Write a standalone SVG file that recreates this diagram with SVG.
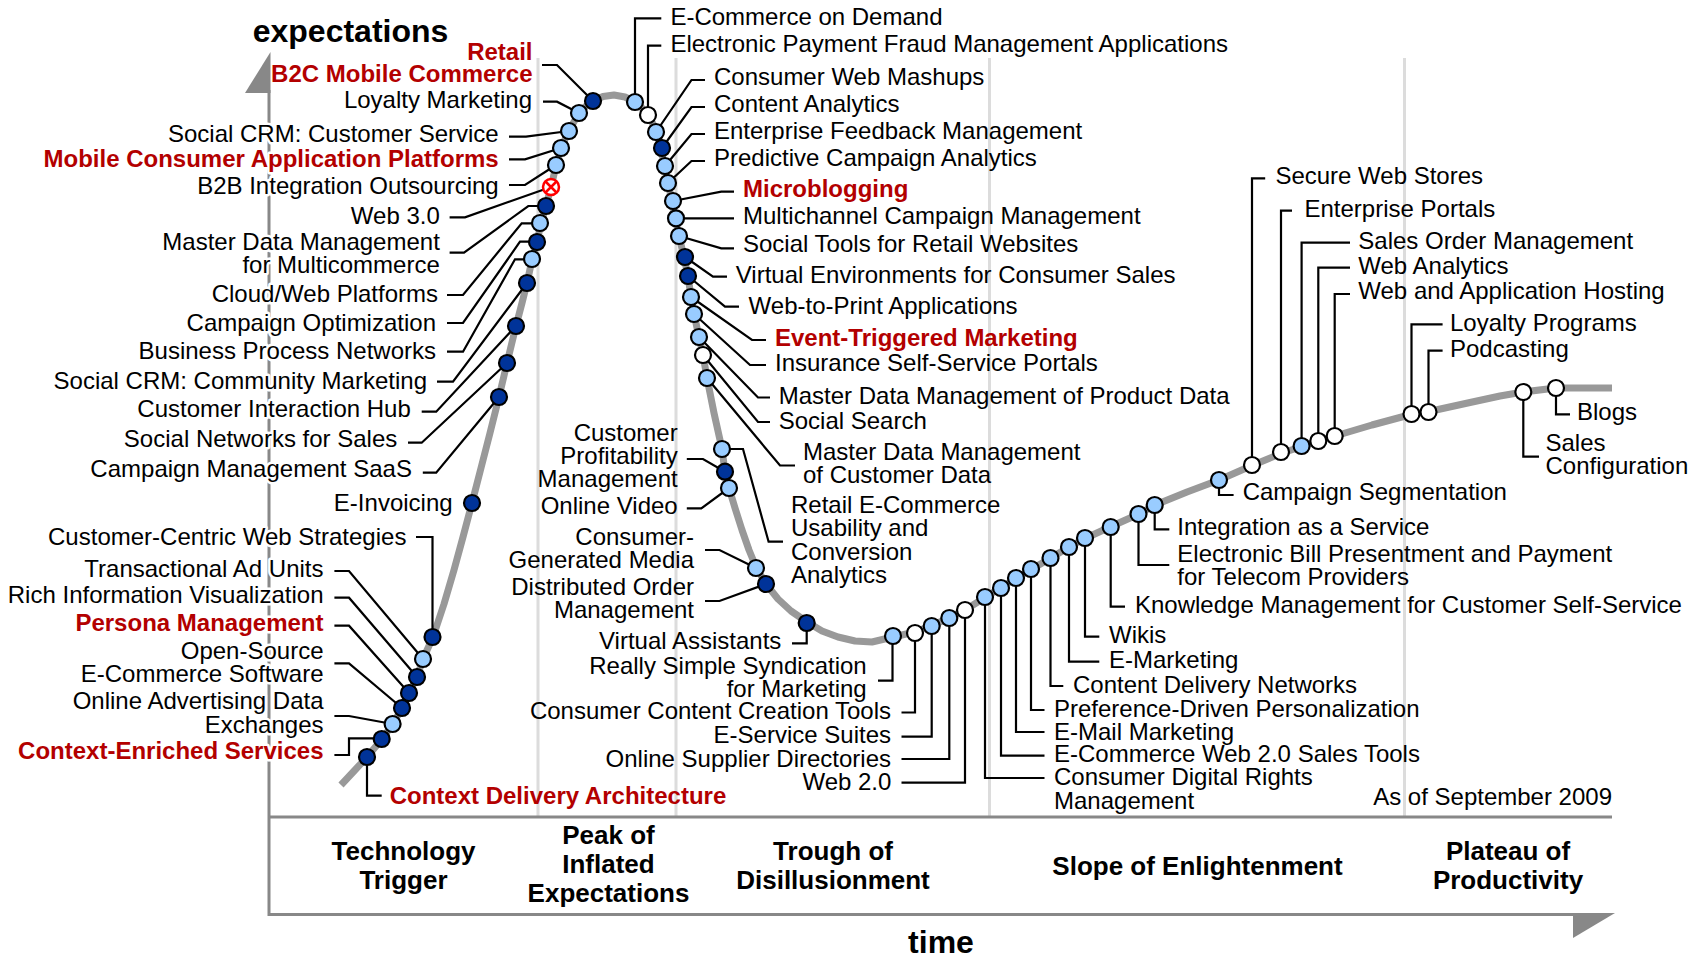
<svg xmlns="http://www.w3.org/2000/svg" width="1701" height="955" viewBox="0 0 1701 955">
<style>
text{font-family:"Liberation Sans",Arial,Helvetica,sans-serif;font-size:24px;fill:#000}
.e{text-anchor:end}
.r{font-weight:bold;fill:#b30000}
.h{stroke:#fff;stroke-width:5;stroke-linejoin:round;paint-order:stroke}
.ph{font-size:26px;font-weight:bold;text-anchor:middle}
.ax{font-size:32px;font-weight:bold}
.sep{stroke:#dcdcdc;stroke-width:3;fill:none}
.axl{stroke:#888;stroke-width:3;fill:none}
.ld{fill:none;stroke:#000;stroke-width:2.2;stroke-linejoin:miter}
.dk{fill:#003399;stroke:#000;stroke-width:2.2}
.lt{fill:#99ccff;stroke:#000;stroke-width:2.2}
.wt{fill:#fff;stroke:#000;stroke-width:2.2}
</style>
<rect width="1701" height="955" fill="#fff"/>
<g id="frame">
<line class="sep" x1="538" y1="58" x2="538" y2="817"/>
<line class="sep" x1="676" y1="58" x2="676" y2="817"/>
<line class="sep" x1="989.5" y1="58" x2="989.5" y2="817"/>
<line class="sep" x1="1404.5" y1="58" x2="1404.5" y2="817"/>
<line class="axl" x1="269" y1="90" x2="269" y2="916"/>
<polygon points="270.5,52 245,93 270.5,93" fill="#888"/>
<line class="axl" x1="269" y1="817" x2="1612" y2="817"/>
<line class="axl" x1="269" y1="914.5" x2="1576" y2="914.5"/>
<polygon points="1573,913 1615,913 1573,938" fill="#888"/>
<text class="ax" x="252.7" y="41.5">expectations</text>
<text class="ax" x="941" y="953" text-anchor="middle">time</text>
<text class="ph" x="403.5" y="860"><tspan x="403.5" y="860">Technology</tspan><tspan x="403.5" y="889">Trigger</tspan></text>
<text class="ph" x="608.5" y="844"><tspan x="608.5" y="844">Peak of</tspan><tspan x="608.5" y="873">Inflated</tspan><tspan x="608.5" y="902">Expectations</tspan></text>
<text class="ph" x="833" y="859.5"><tspan x="833" y="859.5">Trough of</tspan><tspan x="833" y="888.5">Disillusionment</tspan></text>
<text class="ph" x="1197.5" y="875">Slope of Enlightenment</text>
<text class="ph" x="1508" y="859.5"><tspan x="1508" y="859.5">Plateau of</tspan><tspan x="1508" y="888.5">Productivity</tspan></text>
<text class="e" x="1612" y="805">As of September 2009</text>
</g>
<path id="curve" fill="none" stroke="#999" stroke-width="7" stroke-linejoin="round" d="M341,785 L355,770 L367,757 L382,739 L393,724 L402,708 L409,693 L417,677 L423,659 L433,637 L444,604 L454,570 L463,537 L472,503 L481,468 L490,433 L499,397 L507,363 L516,326 L522,303 L527,283 L532,260 L537,242 L541,223 L546,206 L551,187 L556,166 L561,149 L568,132 L578,115 L586,106 L593,101 L603,96.5 L614,95 L625,97 L635,102 L642,108 L648,115 L653,124 L657,133 L661,148 L664,165 L668,183 L672,201 L675,218 L679,236 L684,257 L688,276 L691,297 L694,314 L699,337 L703,355 L707,378 L714,413 L722,449 L725,472 L729,488 L735,508 L742,530 L749,550 L756,567 L766,584 L778,599 L791,611 L807,622 L822,631 L838,637 L855,641 L872,642 L893,637 L915,632 L932,625.5 L949,618 L965,610 L985,597.5 L1000,588 L1016,578.5 L1031,569.5 L1050,558.5 L1069,547 L1085,538.5 L1111,526.5 L1139,514 L1155,505 L1187,492 L1219,480 L1252,465.5 L1282,453 L1302,446.5 L1318,441 L1335,436 L1372,425 L1411,414.5 L1429,411.5 L1470,402.5 L1500,396 L1523,392 L1556,388 L1612,388"/>
<g id="connectors">
<path class="ld" d="M542,65 H557 L593,101"/>
<path class="ld" d="M543,101.7 H557 L579,113"/>
<path class="ld" d="M509,136.7 H526 L569,131"/>
<path class="ld" d="M509,159.3 H525 L561,148"/>
<path class="ld" d="M509,185 H525 L556,165"/>
<path class="ld" d="M449.6,217.3 H465 L551,187"/>
<path class="ld" d="M449.6,252.7 H464 L528.3,206 H546"/>
<path class="ld" d="M447,295 H463 L521.7,223.3 H540"/>
<path class="ld" d="M447,323 H463 L520,241.7 H537"/>
<path class="ld" d="M447,351.7 H463 L515,259.3 H532"/>
<path class="ld" d="M437,381.7 H453 L527,283"/>
<path class="ld" d="M421.7,411.7 H436.2 L516,326"/>
<path class="ld" d="M408,442.7 H421.7 L507,363"/>
<path class="ld" d="M422.8,472.7 H436.2 L499,397"/>
<path class="ld" d="M416,537 H432.5 V637"/>
<path class="ld" d="M334.4,571 H349 L423,659"/>
<path class="ld" d="M334.4,597.7 H349 L417,677"/>
<path class="ld" d="M334.4,625.7 H349 L409,693"/>
<path class="ld" d="M334.4,663.3 H349 L402,708"/>
<path class="ld" d="M334.4,716 H349 L392.6,724"/>
<path class="ld" d="M334.4,755 H349 V738.3 H381.7"/>
<path class="ld" d="M367,757 V795.7 H381.7"/>
<path class="ld" d="M635,102 V18.3 H661.3"/>
<path class="ld" d="M648,115 V45.7 H661.3"/>
<path class="ld" d="M656,132 L691.5,80 H705"/>
<path class="ld" d="M662,148 L691.5,107 H705"/>
<path class="ld" d="M665,166 L691.5,134 H705"/>
<path class="ld" d="M668,183 L691.5,161 H705"/>
<path class="ld" d="M673,201 L721.3,191.7 H734"/>
<path class="ld" d="M676,218.3 H734"/>
<path class="ld" d="M679,236 L721.3,248.3 H734"/>
<path class="ld" d="M685,257 L713,276.7 H727"/>
<path class="ld" d="M688,276 L725,306.7 H739"/>
<path class="ld" d="M691,297 L752,340 H766"/>
<path class="ld" d="M694,314 L750,365 H766"/>
<path class="ld" d="M699,337 L758,397.5 H770"/>
<path class="ld" d="M703,355 L758,422 H770"/>
<path class="ld" d="M707,378 L780,465.5 H795"/>
<path class="ld" d="M722,449 H743 L768.6,541.7 H783"/>
<path class="ld" d="M686.8,459 H703 L725,471.7"/>
<path class="ld" d="M686.8,508.3 H701.3 L729,488"/>
<path class="ld" d="M705,550 H719.5 L756,568"/>
<path class="ld" d="M705,601 H719.5 L766,584"/>
<path class="ld" d="M792,643.3 H806.7 V623"/>
<path class="ld" d="M878,680.7 H892.5 V636"/>
<path class="ld" d="M901.5,712.5 H915 V633"/>
<path class="ld" d="M901.5,736.7 H931.7 V626"/>
<path class="ld" d="M901.5,759 H949.3 V618"/>
<path class="ld" d="M901.5,782.7 H965 V610"/>
<path class="ld" d="M985,597 V778 H1044.5"/>
<path class="ld" d="M1001,588 V755.7 H1044.5"/>
<path class="ld" d="M1016,578 V732 H1044.5"/>
<path class="ld" d="M1031,569 V710 H1044.5"/>
<path class="ld" d="M1050.5,558 V686 H1063.3"/>
<path class="ld" d="M1069,547 V661.7 H1099.3"/>
<path class="ld" d="M1085,538 V636.7 H1099.3"/>
<path class="ld" d="M1110.7,527 V606.7 H1125"/>
<path class="ld" d="M1138.5,514 V565 H1169.3"/>
<path class="ld" d="M1154.7,505 V529.3 H1169.3"/>
<path class="ld" d="M1219,480 V495 H1233.6"/>
<path class="ld" d="M1252,465 V178.3 H1265.2"/>
<path class="ld" d="M1281,452 V210.7 H1292"/>
<path class="ld" d="M1301.6,446 V242.7 H1350"/>
<path class="ld" d="M1318.3,441 V267.7 H1350"/>
<path class="ld" d="M1334.7,436 V294 H1350"/>
<path class="ld" d="M1411.5,414 V324.3 H1442.6"/>
<path class="ld" d="M1428.5,412 V350.7 H1442.6"/>
<path class="ld" d="M1556,388 V414.3 H1570"/>
<path class="ld" d="M1523.3,392 V456.7 H1539"/>
</g>
<g id="n-b2c"><circle class="dk" cx="593" cy="101" r="8"/><text class="r e" x="532.5" y="60"><tspan x="532.5" y="60">Retail</tspan><tspan x="532.5" y="82">B2C Mobile Commerce</tspan></text></g>
<g id="n-loyalty-mkt"><circle class="lt" cx="579" cy="113" r="8"/><text class="e" x="532" y="107.5">Loyalty Marketing</text></g>
<g id="n-scrm-cs"><circle class="lt" cx="569" cy="131" r="8"/><text class="e h" x="498.7" y="142">Social CRM: Customer Service</text></g>
<g id="n-mcap"><circle class="lt" cx="561" cy="148" r="8"/><text class="r e h" x="498.7" y="167">Mobile Consumer Application Platforms</text></g>
<g id="n-b2b"><circle class="lt" cx="556" cy="165" r="8"/><text class="e h" x="498.7" y="193.5">B2B Integration Outsourcing</text></g>
<g id="n-web3"><circle cx="551" cy="187" r="8" fill="#fff" stroke="#f00" stroke-width="2.5"/><path d="M545.5,181.5 L556.5,192.5 M556.5,181.5 L545.5,192.5" stroke="#f00" stroke-width="2.5"/><text class="e h" x="439.8" y="223.5">Web 3.0</text></g>
<g id="n-mdm-multi"><circle class="dk" cx="546" cy="206" r="8"/><text class="e h" x="439.8" y="250"><tspan x="439.8" y="250">Master Data Management</tspan><tspan x="439.8" y="273">for Multicommerce</tspan></text></g>
<g id="n-cloud"><circle class="lt" cx="540" cy="223" r="8"/><text class="e h" x="438" y="302">Cloud/Web Platforms</text></g>
<g id="n-camp-opt"><circle class="dk" cx="537" cy="242" r="8"/><text class="e h" x="436" y="330.5">Campaign Optimization</text></g>
<g id="n-bpn"><circle class="lt" cx="532" cy="259" r="8"/><text class="e h" x="436" y="358.7">Business Process Networks</text></g>
<g id="n-scrm-cm"><circle class="dk" cx="527" cy="283" r="8"/><text class="e h" x="427" y="388.5">Social CRM: Community Marketing</text></g>
<g id="n-cih"><circle class="dk" cx="516" cy="326" r="8"/><text class="e h" x="410.8" y="417">Customer Interaction Hub</text></g>
<g id="n-sns"><circle class="dk" cx="507" cy="363" r="8"/><text class="e h" x="397.3" y="447.3">Social Networks for Sales</text></g>
<g id="n-cms"><circle class="dk" cx="499" cy="397" r="8"/><text class="e h" x="411.9" y="477">Campaign Management SaaS</text></g>
<g id="n-einv"><circle class="dk" cx="472" cy="503" r="8"/><text class="e" x="452.6" y="510.5">E-Invoicing</text></g>
<g id="n-ccws"><circle class="dk" cx="432.5" cy="637" r="8"/><text class="e h" x="406.4" y="545">Customer-Centric Web Strategies</text></g>
<g id="n-tau"><circle class="lt" cx="423" cy="659" r="8"/><text class="e h" x="323.5" y="577">Transactional Ad Units</text></g>
<g id="n-riv"><circle class="dk" cx="417" cy="677" r="8"/><text class="e h" x="323.5" y="603">Rich Information Visualization</text></g>
<g id="n-persona"><circle class="dk" cx="409" cy="693" r="8"/><text class="r e h" x="323.5" y="631">Persona Management</text></g>
<g id="n-oss"><circle class="dk" cx="402" cy="708" r="8"/><text class="e h" x="323.5" y="658.5"><tspan x="323.5" y="658.5">Open-Source</tspan><tspan x="323.5" y="681.5">E-Commerce Software</tspan></text></g>
<g id="n-oade"><circle class="lt" cx="392.6" cy="724" r="8"/><text class="e h" x="323.5" y="709"><tspan x="323.5" y="709">Online Advertising Data</tspan><tspan x="323.5" y="732.5">Exchanges</tspan></text></g>
<g id="n-ces"><circle class="dk" cx="381.7" cy="739" r="8"/><text class="r e h" x="323.5" y="759">Context-Enriched Services</text></g>
<g id="n-cda"><circle class="dk" cx="367" cy="757" r="8"/><text class="r" x="389.7" y="803.5">Context Delivery Architecture</text></g>
<g id="n-ecod"><circle class="lt" cx="635" cy="102" r="8"/><text x="670.4" y="25">E-Commerce on Demand</text></g>
<g id="n-epfm"><circle class="wt" cx="648" cy="115" r="8"/><text x="670.4" y="52.3">Electronic Payment Fraud Management Applications</text></g>
<g id="n-cwm"><circle class="lt" cx="656" cy="132" r="8"/><text x="714" y="85.3">Consumer Web Mashups</text></g>
<g id="n-ca"><circle class="dk" cx="662" cy="148" r="8"/><text x="714" y="112.2">Content Analytics</text></g>
<g id="n-efm"><circle class="lt" cx="665" cy="166" r="8"/><text x="714" y="139">Enterprise Feedback Management</text></g>
<g id="n-pca"><circle class="lt" cx="668" cy="183" r="8"/><text x="714" y="166">Predictive Campaign Analytics</text></g>
<g id="n-micro"><circle class="lt" cx="673" cy="201" r="8"/><text class="r" x="743" y="197">Microblogging</text></g>
<g id="n-mcm"><circle class="lt" cx="676" cy="218.3" r="8"/><text x="743" y="224.3">Multichannel Campaign Management</text></g>
<g id="n-strw"><circle class="lt" cx="679" cy="236" r="8"/><text x="743" y="252.3">Social Tools for Retail Websites</text></g>
<g id="n-vecs"><circle class="dk" cx="685" cy="257" r="8"/><text x="735.8" y="283.3">Virtual Environments for Consumer Sales</text></g>
<g id="n-w2p"><circle class="dk" cx="688" cy="276" r="8"/><text x="748.6" y="314">Web-to-Print Applications</text></g>
<g id="n-etm"><circle class="lt" cx="691" cy="297" r="8"/><text class="r" x="775" y="345.5">Event-Triggered Marketing</text></g>
<g id="n-issp"><circle class="lt" cx="694" cy="314" r="8"/><text x="775" y="371">Insurance Self-Service Portals</text></g>
<g id="n-mdm-pd"><circle class="lt" cx="699" cy="337" r="8"/><text x="778.7" y="403.5">Master Data Management of Product Data</text></g>
<g id="n-ss"><circle class="wt" cx="703" cy="355" r="8"/><text x="778.7" y="429.3">Social Search</text></g>
<g id="n-mdm-cd"><circle class="lt" cx="707" cy="378" r="8"/><text x="803" y="459.5"><tspan x="803" y="459.5">Master Data Management</tspan><tspan x="803" y="482.5">of Customer Data</tspan></text></g>
<g id="n-recu"><circle class="lt" cx="722" cy="449" r="8"/><text x="791" y="513"><tspan x="791" y="513">Retail E-Commerce</tspan><tspan x="791" y="536.3">Usability and</tspan><tspan x="791" y="559.6">Conversion</tspan><tspan x="791" y="583">Analytics</tspan></text></g>
<g id="n-cpm"><circle class="dk" cx="725" cy="471.7" r="8"/><text class="e" x="677.7" y="441"><tspan x="677.7" y="441">Customer</tspan><tspan x="677.7" y="464">Profitability</tspan><tspan x="677.7" y="487">Management</tspan></text></g>
<g id="n-ov"><circle class="lt" cx="729" cy="488" r="8"/><text class="e" x="677.7" y="514">Online Video</text></g>
<g id="n-cgm"><circle class="lt" cx="756" cy="568" r="8"/><text class="e" x="694" y="544.5"><tspan x="694" y="544.5">Consumer-</tspan><tspan x="694" y="567.5">Generated Media</tspan></text></g>
<g id="n-dom"><circle class="dk" cx="766" cy="584" r="8"/><text class="e" x="694" y="594.5"><tspan x="694" y="594.5">Distributed Order</tspan><tspan x="694" y="617.5">Management</tspan></text></g>
<g id="n-va"><circle class="dk" cx="806.7" cy="623" r="8"/><text class="e" x="781.3" y="648.5">Virtual Assistants</text></g>
<g id="n-rss"><circle class="lt" cx="893" cy="636" r="8"/><text class="e" x="866.7" y="673.5"><tspan x="866.7" y="673.5">Really Simple Syndication</tspan><tspan x="866.7" y="697">for Marketing</tspan></text></g>
<g id="n-ccct"><circle class="wt" cx="915" cy="633" r="8"/><text class="e" x="891" y="718.7">Consumer Content Creation Tools</text></g>
<g id="n-ess"><circle class="lt" cx="931.7" cy="626" r="8"/><text class="e" x="891" y="743.3">E-Service Suites</text></g>
<g id="n-osd"><circle class="lt" cx="949.3" cy="618" r="8"/><text class="e" x="891" y="766.5">Online Supplier Directories</text></g>
<g id="n-web2"><circle class="wt" cx="965" cy="610" r="8"/><text class="e" x="891.4" y="790">Web 2.0</text></g>
<g id="n-cdrm"><circle class="lt" cx="985" cy="597" r="8"/><text x="1054" y="785.3"><tspan x="1054" y="785.3">Consumer Digital Rights</tspan><tspan x="1054" y="808.7">Management</tspan></text></g>
<g id="n-ecw2"><circle class="lt" cx="1001" cy="588" r="8"/><text x="1054" y="761.7">E-Commerce Web 2.0 Sales Tools</text></g>
<g id="n-email"><circle class="lt" cx="1016" cy="578" r="8"/><text x="1054" y="739.5">E-Mail Marketing</text></g>
<g id="n-pdp"><circle class="lt" cx="1031" cy="569" r="8"/><text x="1054" y="717">Preference-Driven Personalization</text></g>
<g id="n-cdn"><circle class="lt" cx="1050.5" cy="558" r="8"/><text x="1073" y="692.5">Content Delivery Networks</text></g>
<g id="n-emkt"><circle class="lt" cx="1069" cy="547" r="8"/><text x="1109" y="668.3">E-Marketing</text></g>
<g id="n-wikis"><circle class="lt" cx="1085" cy="538" r="8"/><text x="1109" y="642.5">Wikis</text></g>
<g id="n-kmcss"><circle class="lt" cx="1110.7" cy="527" r="8"/><text x="1135" y="612.5">Knowledge Management for Customer Self-Service</text></g>
<g id="n-ebpp"><circle class="lt" cx="1138.5" cy="514" r="8"/><text x="1177.3" y="561.7"><tspan x="1177.3" y="561.7">Electronic Bill Presentment and Payment</tspan><tspan x="1177.3" y="585.3">for Telecom Providers</tspan></text></g>
<g id="n-iaas"><circle class="lt" cx="1154.7" cy="505" r="8"/><text x="1177.3" y="534.5">Integration as a Service</text></g>
<g id="n-cseg"><circle class="lt" cx="1219" cy="480" r="8"/><text x="1242.7" y="500">Campaign Segmentation</text></g>
<g id="n-sws"><circle class="wt" cx="1252" cy="465" r="8"/><text x="1275.4" y="184">Secure Web Stores</text></g>
<g id="n-ep"><circle class="wt" cx="1281" cy="452" r="8"/><text x="1304.5" y="216.5">Enterprise Portals</text></g>
<g id="n-som"><circle class="lt" cx="1301.6" cy="446" r="8"/><text x="1358.3" y="249">Sales Order Management</text></g>
<g id="n-wa"><circle class="wt" cx="1318.3" cy="441" r="8"/><text x="1358.3" y="274">Web Analytics</text></g>
<g id="n-wah"><circle class="wt" cx="1334.7" cy="436" r="8"/><text x="1358.3" y="299">Web and Application Hosting</text></g>
<g id="n-lp"><circle class="wt" cx="1411.5" cy="414" r="8"/><text x="1450" y="330.5">Loyalty Programs</text></g>
<g id="n-pod"><circle class="wt" cx="1428.5" cy="412" r="8"/><text x="1450" y="356.8">Podcasting</text></g>
<g id="n-sc"><circle class="wt" cx="1523.3" cy="392" r="8"/><text x="1545.5" y="450.5"><tspan x="1545.5" y="450.5">Sales</tspan><tspan x="1545.5" y="473.7">Configuration</tspan></text></g>
<g id="n-blogs"><circle class="wt" cx="1556" cy="388" r="8"/><text x="1577" y="420">Blogs</text></g>
</svg>
